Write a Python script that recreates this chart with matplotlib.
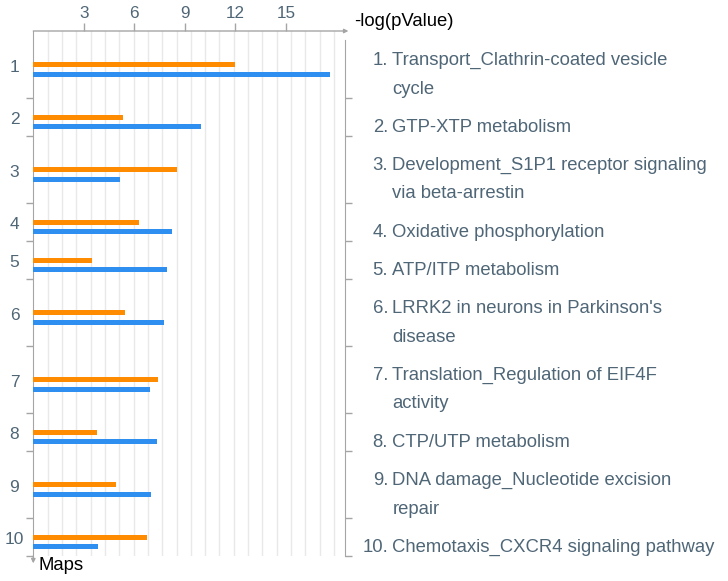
import numpy as np
import matplotlib.pyplot as plt
from matplotlib.transforms import blended_transform_factory

plt.rcParams['font.family'] = ['Liberation Sans', 'DejaVu Sans']

# Data
map_ids = ['1', '2', '3', '4', '5', '6', '7', '8', '9', '10']
map_names = [
    ['Transport_Clathrin-coated vesicle', 'cycle'],
    ['GTP-XTP metabolism'],
    ['Development_S1P1 receptor signaling', 'via beta-arrestin'],
    ['Oxidative phosphorylation'],
    ['ATP/ITP metabolism'],
    ["LRRK2 in neurons in Parkinson's", 'disease'],
    ['Translation_Regulation of EIF4F', 'activity'],
    ['CTP/UTP metabolism'],
    ['DNA damage_Nucleotide excision', 'repair'],
    ['Chemotaxis_CXCR4 signaling pathway'],
]
orange_vals = [12.0, 5.34, 8.5, 6.25, 3.46, 5.44, 7.39, 3.79, 4.88, 6.74]
blue_vals = [17.59, 9.98, 5.16, 8.26, 7.91, 7.75, 6.92, 7.33, 6.96, 3.85]
xtick_vals = [3, 6, 9, 12, 15]

ORANGE = '#ff8c00'
BLUE = '#2e8ff0'
TEXT = '#4f6677'
AXIS = '#a5a5a5'

W, H = 728, 581
fig = plt.figure(figsize=(W / 100, H / 100), dpi=100)
x0, x1 = 33.3, 345.0
y_top, y_bot = 31.0, 556.0
ax = fig.add_axes([x0 / W, 1 - y_bot / H, (x1 - x0) / W, (y_bot - y_top) / H])

# row heights depend on how many text lines the label has (pixel units)
row_h = np.array([38 + 29 * (len(n) - 1) for n in map_names], dtype=float)
row_top = np.concatenate([[0], np.cumsum(row_h)[:-1]])
row_mid = row_top + row_h / 2
total = row_h.sum()

ax.barh(row_mid, orange_vals, height=5, color=ORANGE, zorder=3)
ax.barh(row_mid + 9.5, blue_vals, height=5, color=BLUE, zorder=3)

ax.set_xlim(0, 18.5)
ax.set_ylim(total, 0)

# light vertical grid
ax.set_xticks(np.arange(0.85, 18.5, 0.85), minor=True)
ax.grid(which='minor', axis='x', color='#e9e9e9', lw=1, zorder=0)
ax.tick_params(axis='x', which='minor', length=0)

ax.xaxis.tick_top()
ax.set_xticks(xtick_vals)
ax.set_xticklabels([str(v) for v in xtick_vals])
ax.tick_params(axis='x', which='major', direction='out', length=5.5, width=1,
               color=AXIS, labelcolor=TEXT, labelsize=12.3, pad=1.5)

boundaries = np.cumsum(row_h)
ax.set_yticks(boundaries)
ax.tick_params(axis='y', which='major', left=True, right=True, labelleft=False,
               labelright=False, direction='out', length=5, width=1, color=AXIS)

for s in ['top', 'bottom']:
    ax.spines[s].set_visible(False)
ax.spines['left'].set_color(AXIS)
ax.spines['right'].set_color(AXIS)
ax.spines['right'].set_bounds(9, total)

# axis arrows
ax.annotate('', xy=(1.011, 1), xytext=(0, 1), xycoords='axes fraction',
            arrowprops=dict(arrowstyle='-|>', color=AXIS, lw=1, mutation_scale=6,
                            shrinkA=0, shrinkB=0))
ax.annotate('', xy=(0, -0.014), xytext=(0, 0), xycoords='axes fraction',
            arrowprops=dict(arrowstyle='-|>', color=AXIS, lw=1, mutation_scale=6,
                            shrinkA=0, shrinkB=0))

fig.text(354 / W, 1 - 22 / H, '-log(pValue)', fontsize=13.3, color='black',
         ha='left', va='center')
fig.text(38 / W, 1 - 565 / H, 'Maps', fontsize=13.3, color='black',
         ha='left', va='center')

tr = blended_transform_factory(fig.transFigure, ax.transData)
for i, mid in enumerate(row_mid):
    ax.text(14.5 / W, mid + 7.3, map_ids[i], transform=tr, fontsize=12.5,
            color=TEXT, ha='center', va='baseline')
    base = row_top[i] + 34
    ax.text(388 / W, base, map_ids[i] + '.', transform=tr, fontsize=13.3,
            color=TEXT, ha='right', va='baseline')
    for j, line in enumerate(map_names[i]):
        ax.text(392.5 / W, base + 28.5 * j, line, transform=tr, fontsize=13.3,
                color=TEXT, ha='left', va='baseline')

fig.savefig('out.png', dpi=100)
